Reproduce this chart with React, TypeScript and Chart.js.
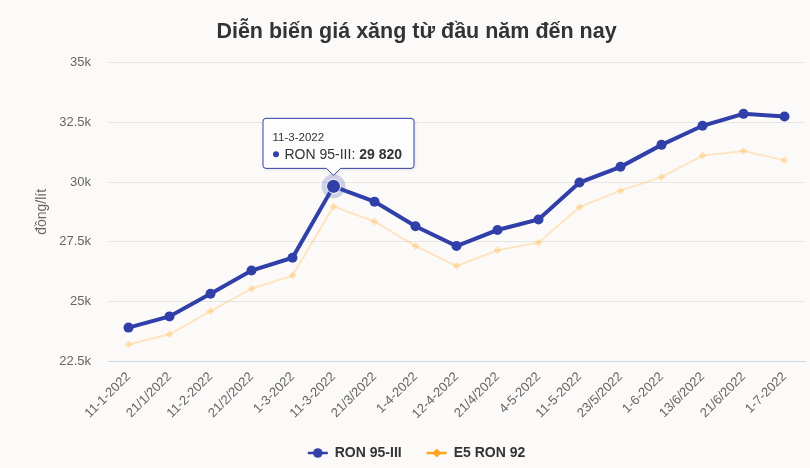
import React, { useEffect, useRef } from "react";
import { Chart, registerables } from "chart.js";

Chart.register(...registerables);

const chartTitle = "Diễn biến giá xăng từ đầu năm đến nay";
const yAxisTitle = "đồng/lít";
const categories = [
  "11-1-2022", "21/1/2022", "11-2-2022", "21/2/2022", "1-3-2022", "11-3-2022",
  "21/3/2022", "1-4-2022", "12-4-2022", "21/4/2022", "4-5-2022", "11-5-2022",
  "23/5/2022", "1-6-2022", "13/6/2022", "21/6/2022", "1-7-2022",
];
const ron95Name = "RON 95-III";
const ron95 = [
  23900, 24370, 25320, 26290, 26830, 29820, 29180, 28150, 27320, 27990, 28430,
  29980, 30640, 31560, 32360, 32860, 32750,
];
const e5Name = "E5 RON 92";
const e5ron92 = [
  23190, 23620, 24590, 25530, 26080, 28980, 28350, 27320, 26480, 27140, 27460,
  28950, 29640, 30210, 31110, 31300, 30910,
];
const yMin = 22500;
const yMax = 35000;
const yStep = 2500;
const hoverIndex = 5;

const FONT = '"Liberation Sans", Arial, sans-serif';
const BLUE = "#3040a8";
const ORANGE = "#ffa41c";

function legendSymbol(color: string, diamond: boolean): HTMLCanvasElement {
  const c = document.createElement("canvas");
  c.width = 22;
  c.height = 12;
  const ctx = c.getContext("2d")!;
  ctx.strokeStyle = color;
  ctx.lineWidth = 2.5;
  ctx.beginPath();
  ctx.moveTo(1, 6);
  ctx.lineTo(21, 6);
  ctx.stroke();
  ctx.fillStyle = color;
  ctx.beginPath();
  if (diamond) {
    ctx.moveTo(11, 1.5);
    ctx.lineTo(15.5, 6);
    ctx.lineTo(11, 10.5);
    ctx.lineTo(6.5, 6);
    ctx.closePath();
  } else {
    ctx.arc(11, 6, 4.8, 0, Math.PI * 2);
  }
  ctx.fill();
  return c;
}

function fmt(v: number): string {
  const s = String(Math.round(v));
  return s.replace(/\B(?=(\d{3})+(?!\d))/g, " ");
}

const bgPlugin = {
  id: "bg",
  beforeDraw(chart: any) {
    const { ctx, width, height } = chart;
    ctx.save();
    ctx.fillStyle = "#fcfaf8";
    ctx.fillRect(0, 0, width, height);
    ctx.restore();
  },
};

const haloPlugin = {
  id: "halo",
  beforeDatasetsDraw(chart: any) {
    const pt = chart.getDatasetMeta(0).data[hoverIndex];
    if (!pt) return;
    const { ctx } = chart;
    ctx.save();
    ctx.fillStyle = "rgba(48,64,168,0.22)";
    ctx.beginPath();
    ctx.arc(pt.x, pt.y, 12, 0, Math.PI * 2);
    ctx.fill();
    ctx.restore();
  },
};

const tipPlugin = {
  id: "fixedTip",
  afterDraw(chart: any) {
    const pt = chart.getDatasetMeta(0).data[hoverIndex];
    if (!pt) return;
    const { ctx } = chart;
    const w = 151;
    const h = 50;
    const left = pt.x - 70.5;
    const bottom = pt.y - 18;
    const top = bottom - h;
    const r = 3;
    ctx.save();
    ctx.shadowColor = "rgba(0,0,0,0.12)";
    ctx.shadowBlur = 4;
    ctx.shadowOffsetX = 1;
    ctx.shadowOffsetY = 1;
    ctx.beginPath();
    ctx.moveTo(left + r, top);
    ctx.lineTo(left + w - r, top);
    ctx.quadraticCurveTo(left + w, top, left + w, top + r);
    ctx.lineTo(left + w, bottom - r);
    ctx.quadraticCurveTo(left + w, bottom, left + w - r, bottom);
    ctx.lineTo(pt.x + 7, bottom);
    ctx.lineTo(pt.x, bottom + 7);
    ctx.lineTo(pt.x - 7, bottom);
    ctx.lineTo(left + r, bottom);
    ctx.quadraticCurveTo(left, bottom, left, bottom - r);
    ctx.lineTo(left, top + r);
    ctx.quadraticCurveTo(left, top, left + r, top);
    ctx.closePath();
    ctx.fillStyle = "rgba(255,255,255,0.93)";
    ctx.fill();
    ctx.shadowColor = "transparent";
    ctx.strokeStyle = BLUE;
    ctx.lineWidth = 1;
    ctx.stroke();

    ctx.textBaseline = "alphabetic";
    ctx.textAlign = "left";
    ctx.fillStyle = "#333333";
    ctx.font = `11.5px ${FONT}`;
    ctx.fillText(categories[hoverIndex], left + 9.5, top + 23);

    ctx.fillStyle = BLUE;
    ctx.beginPath();
    ctx.arc(left + 13, top + 36, 3, 0, Math.PI * 2);
    ctx.fill();

    ctx.fillStyle = "#333333";
    ctx.font = `14px ${FONT}`;
    const label = `${ron95Name}: `;
    ctx.fillText(label, left + 21.5, top + 41);
    const lw = ctx.measureText(label).width;
    ctx.font = `bold 14px ${FONT}`;
    ctx.fillText(fmt(ron95[hoverIndex]), left + 21.5 + lw, top + 41);
    ctx.restore();
  },
};

export default function App() {
  const ref = useRef<HTMLCanvasElement | null>(null);

  useEffect(() => {
    if (!ref.current) return;
    const symbols = [legendSymbol(BLUE, false), legendSymbol(ORANGE, true)];
    const chart = new Chart(ref.current, {
      type: "line",
      data: {
        labels: categories,
        datasets: [
          {
            label: ron95Name,
            data: ron95,
            borderColor: BLUE,
            backgroundColor: BLUE,
            borderWidth: 4,
            pointStyle: "circle",
            pointRadius: (c: any) => (c.dataIndex === hoverIndex ? 7 : 5),
            pointBorderWidth: (c: any) => (c.dataIndex === hoverIndex ? 1 : 0),
            pointBorderColor: "#ffffff",
            pointBackgroundColor: BLUE,
            tension: 0,
            order: 0,
          } as any,
          {
            label: e5Name,
            data: e5ron92,
            borderColor: "rgba(255,175,50,0.28)",
            backgroundColor: "rgba(255,175,50,0.28)",
            borderWidth: 2,
            pointStyle: "rectRot",
            pointRadius: 4,
            pointBorderWidth: 0,
            pointBackgroundColor: "rgba(255,175,50,0.3)",
            tension: 0,
            order: 1,
          } as any,
        ],
      },
      options: {
        responsive: false,
        animation: false,
        devicePixelRatio: 1,
        events: [],
        layout: { padding: { left: 28, right: 5, top: 0, bottom: -2 } },
        plugins: {
          title: {
            display: true,
            text: chartTitle,
            color: "#333333",
            font: { family: FONT, size: 21.5, weight: "bold" },
            padding: { top: 19, bottom: 18 },
          },
          legend: {
            position: "bottom",
            labels: {
              usePointStyle: true,
              pointStyleWidth: 20,
              color: "#333333",
              font: { family: FONT, size: 14, weight: "bold" },
              padding: 25,
              generateLabels: (ch: any) =>
                ch.data.datasets.map((ds: any, i: number) => ({
                  text: ds.label,
                  pointStyle: symbols[i],
                  fillStyle: "transparent",
                  strokeStyle: "transparent",
                  lineWidth: 0,
                  fontColor: "#333333",
                  hidden: false,
                  datasetIndex: i,
                })),
            },
          },
          tooltip: { enabled: false },
        },
        scales: {
          x: {
            offset: true,
            grid: { display: false, drawTicks: false },
            border: { display: true, color: "#ccd6eb", width: 1 },
            ticks: {
              autoSkip: false,
              maxRotation: 45,
              minRotation: 45,
              color: "#666666",
              font: { family: FONT, size: 13 },
              padding: 8,
            },
            afterFit: (s: any) => {
              s.height = 60;
            },
          },
          y: {
            min: yMin,
            max: yMax,
            grid: { color: "#e6e6e6", drawTicks: false, lineWidth: 1 },
            border: { display: false },
            ticks: {
              stepSize: yStep,
              color: "#666666",
              font: { family: FONT, size: 13 },
              padding: 17,
              callback: (v: any) => `${Number(v) / 1000}k`,
            },
            title: {
              display: true,
              text: yAxisTitle,
              color: "#666666",
              font: { family: FONT, size: 14 },
              padding: { top: 6, bottom: 0 },
            },
            afterFit: (s: any) => {
              s.width = 80;
            },
          },
        },
      } as any,
      plugins: [bgPlugin, haloPlugin, tipPlugin],
    });
    return () => chart.destroy();
  }, []);

  return (
    <div style={{ position: "absolute", left: 0, top: 0, width: 810, height: 468, background: "#fcfaf8" }}>
      <canvas ref={ref} width={810} height={468} style={{ display: "block", width: 810, height: 468 }} />
    </div>
  );
}
